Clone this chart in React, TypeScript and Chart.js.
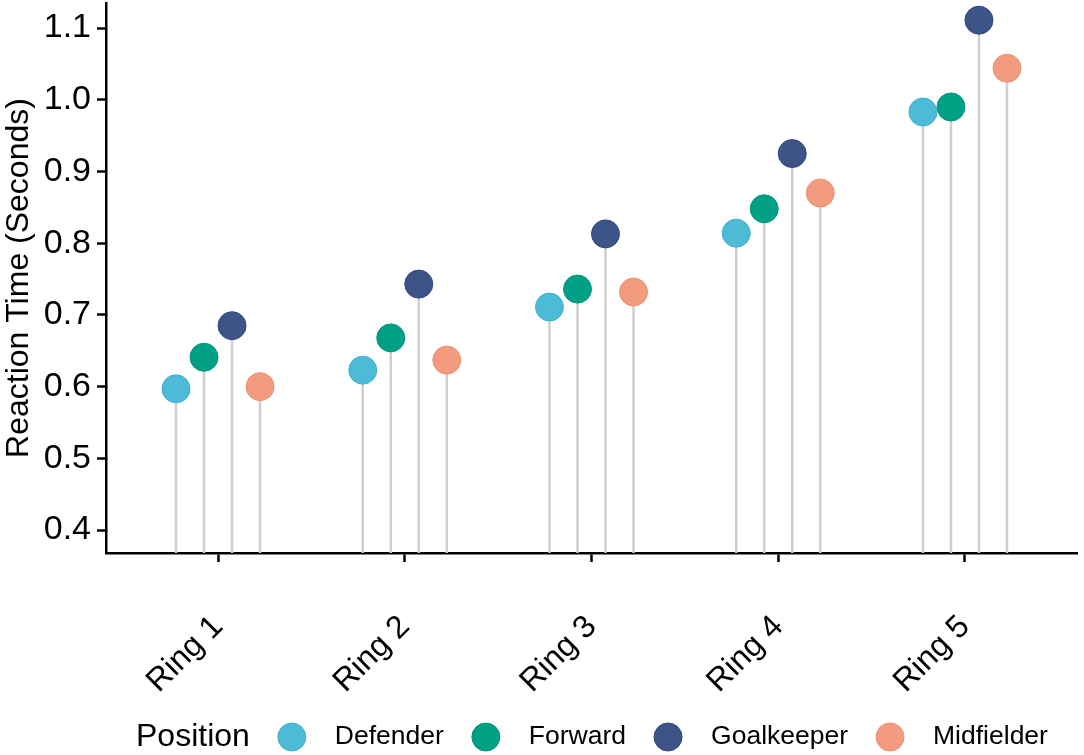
import { useEffect, useRef } from 'react';
import { Chart, registerables, type Plugin } from 'chart.js';

Chart.register(...registerables);

const rings = ['Ring 1', 'Ring 2', 'Ring 3', 'Ring 4', 'Ring 5'];
const positions = ['Defender', 'Forward', 'Goalkeeper', 'Midfielder'];

// mean reaction time (seconds) per ring, one array per position
const defender = [0.597, 0.623, 0.711, 0.814, 0.983];
const forward = [0.641, 0.668, 0.736, 0.848, 0.990];
const goalkeeper = [0.685, 0.743, 0.813, 0.925, 1.111];
const midfielder = [0.600, 0.637, 0.732, 0.870, 1.044];

const yTicks = [0.4, 0.5, 0.6, 0.7, 0.8, 0.9, 1.0, 1.1];

const fills = ['#4DBBD5', '#00A087', '#3C5488', '#F39B7F'];
const edges = ['#3FAFCB', '#00957D', '#2F4680', '#EC8F72'];
const dodge = [-0.225, -0.075, 0.075, 0.225];

const FONT = "'Liberation Sans', Arial, sans-serif";

const stems: Plugin = {
    id: 'stems',
    beforeDatasetsDraw(chart) {
        const { ctx, chartArea } = chart;
        ctx.save();
        ctx.strokeStyle = '#CFCFCF';
        ctx.lineWidth = 2.5;
        chart.data.datasets.forEach((_ds, i) => {
            chart.getDatasetMeta(i).data.forEach(pt => {
                ctx.beginPath();
                ctx.moveTo(pt.x, pt.y);
                ctx.lineTo(pt.x, chartArea.bottom);
                ctx.stroke();
            });
        });
        ctx.restore();
    }
};

const legendRow: Plugin = {
    id: 'legendRow',
    afterDraw(chart) {
        const { ctx } = chart;
        const cy = 737;
        const gap = 28;
        const r = 14;
        ctx.save();
        ctx.textBaseline = 'middle';
        ctx.textAlign = 'left';
        ctx.fillStyle = '#000';
        ctx.font = `32px ${FONT}`;
        let x = 136;
        ctx.fillText('Position', x, cy);
        x += ctx.measureText('Position').width + gap;
        ctx.font = `26.5px ${FONT}`;
        positions.forEach((name, i) => {
            ctx.beginPath();
            ctx.arc(x + r, cy, r, 0, Math.PI * 2);
            ctx.fillStyle = fills[i];
            ctx.fill();
            ctx.lineWidth = 1;
            ctx.strokeStyle = edges[i];
            ctx.stroke();
            x += 2 * r + 29;
            ctx.fillStyle = '#000';
            ctx.fillText(name, x, cy);
            x += ctx.measureText(name).width + gap;
        });
        ctx.restore();
    }
};

export default function App() {
    const canvas = useRef<HTMLCanvasElement>(null);

    useEffect(() => {
        document.body.style.margin = '0';
        const series = [defender, forward, goalkeeper, midfielder];

        const chart = new Chart(canvas.current as HTMLCanvasElement, {
            type: 'scatter',
            data: {
                datasets: positions.map((name, i) => ({
                    label: name,
                    data: series[i].map((v, j) => ({ x: j + 1 + dodge[i], y: v })),
                    backgroundColor: fills[i],
                    borderColor: edges[i],
                    borderWidth: 1,
                    pointRadius: 14,
                    pointHoverRadius: 14,
                    clip: false
                }))
            },
            options: {
                responsive: false,
                animation: false,
                layout: { autoPadding: false, padding: { top: 3, right: 7, left: 0, bottom: 45 } },
                plugins: {
                    legend: { display: false },
                    tooltip: { enabled: false }
                },
                scales: {
                    x: {
                        type: 'linear',
                        min: 0.4,
                        max: 5.6,
                        afterFit: (scale: any) => {
                            scale.height = 157;
                            scale.paddingLeft = 0;
                            scale.paddingRight = 0;
                        },
                        afterBuildTicks: scale => {
                            scale.ticks = rings.map((_r, j) => ({ value: j + 1 }));
                        },
                        grid: {
                            drawOnChartArea: false,
                            drawTicks: true,
                            tickLength: 9,
                            tickWidth: 2.5,
                            tickColor: '#000'
                        },
                        border: { color: '#000', width: 2.5 },
                        ticks: {
                            autoSkip: false,
                            minRotation: 45,
                            maxRotation: 45,
                            padding: 46,
                            color: '#000',
                            font: { family: FONT, size: 32 },
                            callback: value => rings[Number(value) - 1]
                        }
                    },
                    y: {
                        min: 0.368,
                        max: 1.135,
                        afterFit: (scale: any) => {
                            scale.width = 106;
                            scale.paddingTop = 0;
                            scale.paddingBottom = 0;
                        },
                        afterBuildTicks: scale => {
                            scale.ticks = yTicks.map(v => ({ value: v }));
                        },
                        grid: {
                            drawOnChartArea: false,
                            drawTicks: true,
                            tickLength: 9,
                            tickWidth: 2.5,
                            tickColor: '#000'
                        },
                        border: { color: '#000', width: 2.5 },
                        ticks: {
                            padding: 6,
                            color: '#000',
                            font: { family: FONT, size: 34 },
                            callback: value => Number(value).toFixed(1)
                        },
                        title: {
                            display: true,
                            text: 'Reaction Time (Seconds)',
                            color: '#000',
                            padding: 0,
                            font: { family: FONT, size: 32 }
                        }
                    }
                }
            },
            plugins: [stems, legendRow]
        });

        return () => {
            chart.destroy();
        };
    }, []);

    return (
        <canvas
            ref={canvas}
            width={1084}
            height={755}
            style={{ display: 'block' }}
            role="img"
            aria-label="Reaction time by ring and position"
        ></canvas>
    );
}
